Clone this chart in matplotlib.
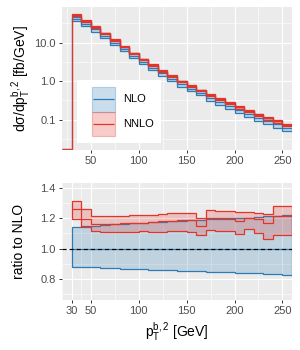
import numpy as np
import matplotlib
matplotlib.use('Agg')
import matplotlib.pyplot as plt
from matplotlib.patches import Rectangle
from matplotlib.ticker import FixedLocator, NullFormatter, FixedFormatter
from matplotlib.colors import to_rgba

plt.rcParams['font.family'] = ['Liberation Sans', 'DejaVu Sans']
plt.rcParams['mathtext.fontset'] = 'custom'
plt.rcParams['mathtext.rm'] = 'Liberation Sans'
plt.rcParams['mathtext.it'] = 'Liberation Sans:italic'
plt.rcParams['mathtext.bf'] = 'Liberation Sans:bold'

# ---------------- data ----------------
# bin edges in p_T^{b,2} [GeV]; first bin (20-30) lies below the cut
bin_edges = [20, 30, 40, 50, 60, 70, 80, 90, 100, 110, 120, 130, 140, 150,
             160, 170, 180, 190, 200, 210, 220, 230, 240, 250, 260]

# NLO central cross section per bin [fb/GeV] (bins 20-30 ... 250-260)
nlo_xs = [0.0172, 41.5, 30.5, 22.0, 15.0, 10.0, 6.8, 4.55, 3.15, 2.25, 1.60,
          1.17, 0.84, 0.645, 0.50, 0.37, 0.285, 0.225, 0.178, 0.143, 0.113,
          0.093, 0.075, 0.061]

# ratios to NLO for bins 30-40 ... 250-260
nlo_ratio_lo = [0.882, 0.879, 0.877, 0.874, 0.872, 0.869, 0.867, 0.865, 0.862,
                0.860, 0.858, 0.856, 0.853, 0.851, 0.849, 0.847, 0.845, 0.843,
                0.840, 0.838, 0.836, 0.833, 0.830]
nlo_ratio_hi = [1.144, 1.148, 1.152, 1.156, 1.160, 1.163, 1.167, 1.170, 1.174,
                1.177, 1.180, 1.184, 1.187, 1.190, 1.193, 1.196, 1.199, 1.202,
                1.205, 1.208, 1.212, 1.216, 1.222]
nnlo_ratio = [1.258, 1.197, 1.165, 1.163, 1.165, 1.168, 1.170, 1.172, 1.176,
              1.180, 1.183, 1.186, 1.188, 1.150, 1.205, 1.200, 1.198, 1.185,
              1.205, 1.198, 1.170, 1.215, 1.215]
nnlo_ratio_hi = [1.313, 1.258, 1.214, 1.214, 1.216, 1.218, 1.219, 1.220, 1.222,
                 1.230, 1.232, 1.234, 1.234, 1.199, 1.254, 1.248, 1.248, 1.244,
                 1.240, 1.236, 1.230, 1.278, 1.278]
nnlo_ratio_lo = [1.197, 1.144, 1.116, 1.108, 1.108, 1.110, 1.110, 1.114, 1.110,
                 1.110, 1.118, 1.118, 1.112, 1.090, 1.120, 1.115, 1.115, 1.095,
                 1.130, 1.100, 1.064, 1.090, 1.090]

series_labels = ['NLO', 'NNLO']

# ---------------- styling ----------------
BLUE = '#2C7BB6'
RED = '#E3342A'
FILL_ALPHA = 0.22
LW = 0.9
BG = '#EBEBEB'

edges_all = np.array(bin_edges, dtype=float)
edges = edges_all[1:]
nlo_all = np.array(nlo_xs)
nlo = nlo_all[1:]
r_lo, r_hi = np.array(nlo_ratio_lo), np.array(nlo_ratio_hi)
n_c, n_lo, n_hi = np.array(nnlo_ratio), np.array(nnlo_ratio_lo), np.array(nnlo_ratio_hi)

fig = plt.figure(figsize=(3.0, 3.5), dpi=100)
ax1 = fig.add_axes([62/300, 1-150/350, 230/300, 142.7/350])
ax2 = fig.add_axes([62/300, 1-300/350, 230/300, 117.3/350])


def style(ax):
    ax.set_facecolor(BG)
    for s in ax.spines.values():
        s.set_visible(False)
    ax.grid(True, which='major', color='white', lw=0.8)
    ax.grid(True, which='minor', color='white', lw=0.4)
    ax.set_axisbelow(True)
    ax.tick_params(which='major', length=2.5, width=0.7, color='#333333',
                   labelcolor='#4D4D4D', labelsize=8, pad=2)
    ax.tick_params(which='minor', length=0)


def band(ax, e, lo, hi, c):
    ax.stairs(hi, e, baseline=lo, fill=True, facecolor=c, alpha=FILL_ALPHA,
              edgecolor='none', lw=0)
    ax.stairs(hi, e, baseline=lo, fill=False, color=c, lw=LW)


# ---- top panel ----
style(ax1)
band(ax1, edges, nlo * r_lo, nlo * r_hi, BLUE)
ax1.stairs(nlo_all, edges_all, baseline=None, color=BLUE, lw=LW)
nnlo_top = np.concatenate([[nlo_all[0]], nlo * n_c])
band(ax1, edges, nlo * n_lo, nlo * n_hi, RED)
ax1.stairs(nnlo_top, edges_all, baseline=None, color=RED, lw=LW)

ax1.set_yscale('log')
ax1.set_xlim(20, 260)
ax1.set_ylim(0.0163, 83)
ax1.yaxis.set_major_locator(FixedLocator([0.1, 1, 10]))
ax1.yaxis.set_major_formatter(FixedFormatter(['0.1', '1.0', '10.0']))
ax1.yaxis.set_minor_locator(FixedLocator([10**-1.5, 10**-0.5, 10**0.5, 10**1.5]))
ax1.yaxis.set_minor_formatter(NullFormatter())
ax1.xaxis.set_major_locator(FixedLocator([50, 100, 150, 200, 250]))
ax1.xaxis.set_minor_locator(FixedLocator([25, 75, 125, 175, 225]))
ax1.set_ylabel('dσ/' + r'$\mathrm{dp}_\mathrm{T}^\mathrm{b,2}$' + ' [fb/GeV]', fontsize=10)
ax1.yaxis.set_label_coords(-0.13, 0.5)

# legend (drawn in axes coordinates, ggplot-like keys)
T = ax1.transAxes
ax1.add_patch(Rectangle((0.065, 0.049), 0.366, 0.442, transform=T,
                        facecolor='white', edgecolor='none', zorder=5))
key_x, key_w, key_h = 0.130, 0.100, 0.172
for i, (lab, c) in enumerate(zip(series_labels, [BLUE, RED])):
    y0 = 0.269 - i * key_h
    ax1.add_patch(Rectangle((key_x, y0), key_w, key_h, transform=T,
                            facecolor=to_rgba(c, 0.25),
                            edgecolor=to_rgba(c, 0.30), lw=0.8, zorder=6))
    ax1.plot([key_x + 0.006, key_x + key_w - 0.006], [y0 + key_h / 2] * 2,
             transform=T, color=c, lw=LW, zorder=7, solid_capstyle='butt')
    ax1.text(0.265, y0 + key_h / 2, lab, transform=T, fontsize=8,
             va='center', ha='left', color='black', zorder=7)

# ---- ratio panel ----
style(ax2)
band(ax2, edges, r_lo, r_hi, BLUE)
ax2.stairs(nlo / nlo, edges, baseline=None, color=BLUE, lw=LW)
band(ax2, edges, n_lo, n_hi, RED)
ax2.stairs(n_c, edges, baseline=None, color=RED, lw=LW)
ax2.axhline(1.0, color='black', lw=0.85, linestyle=(0, (3.5, 2.5)))

ax2.set_xlim(20, 260)
ax2.set_ylim(0.6625, 1.434)
ax2.yaxis.set_major_locator(FixedLocator([0.8, 1.0, 1.2, 1.4]))
ax2.yaxis.set_major_formatter(FixedFormatter(['0.8', '1.0', '1.2', '1.4']))
ax2.yaxis.set_minor_locator(FixedLocator([0.7, 0.9, 1.1, 1.3]))
ax2.xaxis.set_major_locator(FixedLocator([30, 50, 100, 150, 200, 250]))
ax2.xaxis.set_minor_locator(FixedLocator([20, 40, 75, 125, 175, 225]))
ax2.set_ylabel('ratio to NLO', fontsize=10)
ax2.yaxis.set_label_coords(-0.155, 0.5)
ax2.set_xlabel(r'$\mathrm{p}_\mathrm{T}^\mathrm{b,2}$ [GeV]', fontsize=10, labelpad=3)

fig.savefig('out.png', dpi=100)
